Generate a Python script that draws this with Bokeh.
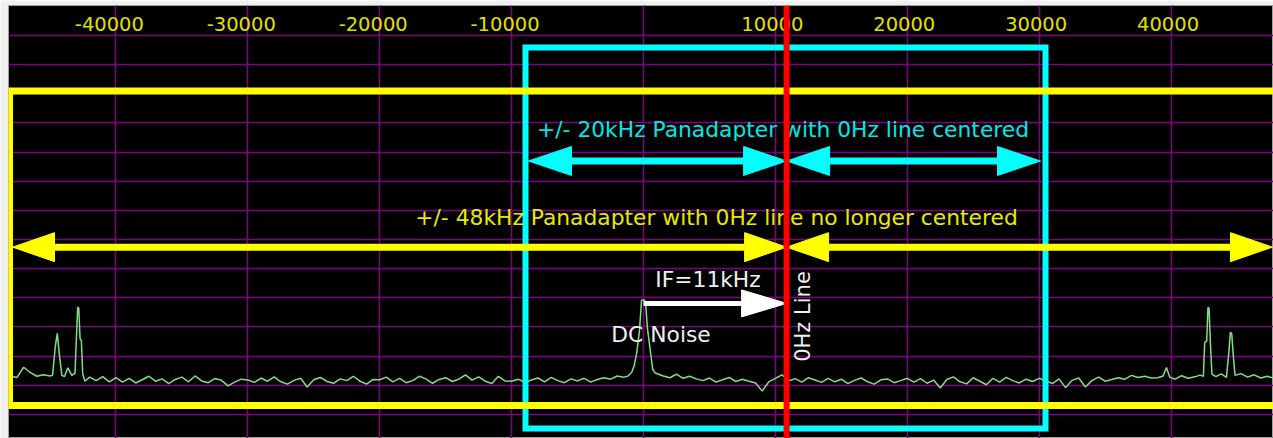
import math
from bokeh.plotting import figure
from bokeh.models import Range1d, FixedTicker, Grid, Span
from bokeh.core.properties import value
from bokeh.embed import file_html
from bokeh.resources import INLINE

# ---------------- data ----------------
tick_hz = [-40000, -30000, -20000, -10000, 10000, 20000, 30000, 40000]
tick_labels = ["-40000", "-30000", "-20000", "-10000", "10000", "20000", "30000", "40000"]
grid_hz = [-40000, -30000, -20000, -10000, 0, 10000, 20000, 30000, 40000]
grid_db = [0, -10, -20, -30, -40, -50, -60, -70, -80, -90, -100, -110, -120, -130]

spectrum_hz = (
    [-48200, -47500, -47000, -46500, -46000, -45500, -45000, -44800, -44600, -44450, -44300, -44100]
    + [-43900, -43650, -43350, -43100, -43000, -42900, -42820, -42720, -42620, -42520, -42350, -42000, -41500, -41000, -40500]
    + [-40000, -39500, -39000, -38500, -38000, -37500, -37000, -36500, -36000, -35500,
       -35000, -34500, -34000, -33500, -33000, -32500, -32000, -31500, -31000, -30500]
    + [-30000, -29500, -29000, -28500, -28000, -27500, -27000, -26500, -26000, -25500,
       -25000, -24500, -24000, -23500, -23000, -22500, -22000, -21500, -21000, -20500]
    + [-20000, -19500, -19000, -18500, -18000, -17500, -17000, -16500, -16000, -15500,
       -15000, -14500, -14000, -13500, -13000, -12500, -12000, -11500, -11000, -10500]
    + [-10000, -9500, -9000, -8500, -8000, -7500, -7000, -6500, -6000, -5500,
       -5000, -4500, -4000, -3500, -3000, -2500, -2000, -1500]
    + [-1200, -900, -700, -500, -300, -150, 0, 150, 300, 500, 700, 900, 1200]
    + [1500, 2000, 2500, 3000, 3500, 4000, 4500, 5000, 5500, 6000,
       6500, 7000, 7500, 8000, 8500, 9000, 9500, 10000]
    + [10500, 11000, 11500, 12000, 12500, 13000, 13500, 14000, 14500, 15000,
       15500, 16000, 16500, 17000, 17500, 18000, 18500, 19000, 19500, 20000]
    + [20500, 21000, 21500, 22000, 22500, 23000, 23500, 24000, 24500, 25000,
       25500, 26000, 26500, 27000, 27500, 28000, 28500, 29000, 29500, 30000]
    + [30500, 31000, 31500, 32000, 32500, 33000, 33500, 34000, 34500, 35000,
       35500, 36000, 36500, 37000, 37500, 38000, 38500]
    + [39000, 39400, 39650, 39900, 40300, 40800, 41300, 41800, 42200, 42450,
       42550, 42700, 42800, 42880, 42980, 43100, 43400, 43800, 44200, 44380,
       44500, 44600, 44700, 44850, 45300, 45800, 46300, 46800, 47300, 47800]
)
spectrum_db = (
    [-116.6, -117.3, -113.8, -115.6, -116.9, -116.4, -116.8, -116.5, -106.7, -102.2, -109.0, -116.6]
    + [-117.0, -114.0, -116.6, -115.8, -104.0, -93.2, -93.5, -104.0, -104.8, -116.0, -118.6, -117.2, -118.4, -117.0, -118.8]
    + [-117.4, -118.9, -117.6, -119.2, -118.1, -116.9, -118.6, -117.8, -119.4, -118.0,
       -117.2, -118.8, -116.8, -118.5, -119.1, -117.7, -118.3, -120.2, -118.9, -117.9]
    + [-118.2, -119.0, -117.5, -118.6, -117.1, -118.8, -119.6, -118.3, -117.6, -120.6,
       -118.1, -117.3, -118.7, -119.3, -117.8, -118.4, -116.9, -118.6, -119.6, -118.0]
    + [-118.1, -117.2, -118.8, -117.6, -119.1, -118.4, -116.9, -117.8, -119.3, -118.0,
       -117.4, -118.7, -117.9, -116.4, -118.2, -117.1, -118.6, -119.4, -116.9, -118.5]
    + [-118.6, -117.9, -119.0, -118.2, -117.5, -118.8, -117.3, -118.4, -119.1, -117.8,
       -118.5, -117.6, -118.9, -118.0, -117.4, -117.9, -116.8, -117.2]
    + [-116.9, -115.6, -113.2, -108.5, -101.0, -90.9, -90.6, -91.2, -100.5, -107.6, -114.5, -115.8, -116.3]
    + [-116.8, -117.4, -116.2, -117.6, -116.9, -117.8, -118.4, -117.5, -118.9, -118.1,
       -117.3, -118.7, -117.9, -118.6, -119.2, -122.0, -118.8, -117.6]
    + [-116.4, -118.5, -117.7, -118.9, -117.4, -118.2, -119.0, -117.6, -118.8, -117.9,
       -119.4, -118.3, -117.5, -118.8, -119.6, -118.1, -117.8, -119.1, -118.4, -117.6]
    + [-118.9, -117.7, -119.3, -118.2, -120.9, -118.0, -117.1, -118.8, -119.5, -117.4,
       -118.6, -119.8, -117.6, -118.9, -117.3, -118.4, -119.2, -117.9, -118.7, -117.6]
    + [-118.5, -119.4, -117.8, -120.8, -118.3, -117.5, -120.6, -118.4, -117.2, -118.6,
       -118.0, -117.4, -117.9, -116.6, -117.3, -116.9, -117.5]
    + [-117.4, -116.8, -113.9, -117.2, -117.9, -116.7, -117.6, -117.1, -116.5, -116.9,
       -105.3, -104.9, -93.2, -93.6, -105.3, -116.2, -117.0, -116.1, -117.3, -108.7,
       -101.8, -102.3, -108.7, -116.6, -116.0, -117.2, -116.4, -117.5, -116.9, -117.6]
)

# annotation geometry (data units: Hz, dB)
zero_hz_line = 10850
pan20_box = dict(left=-8947, right=30480, bottom=-134.8, top=-4.12)
pan48_box = dict(left=-48070, right=48600, bottom=-126.9, top=-19.04)

arrow_x0 = [-8720, 10850, -47840, 10850, 0]
arrow_x1 = [10850, 30100, 10850, 47690, 10850]
arrow_y = [-43.05, -43.05, -72.6, -72.6, -91.9]
arrow_double = [True, True, True, True, False]
arrow_color = ["#00FFFF", "#00FFFF", "#FFFF00", "#FFFF00", "#FFFFFF"]
arrow_width = [7, 7, 7, 7, 5]
arrow_head_len = [43, 43, 42, 42, 45]      # px
arrow_head_half = [14.5, 14.5, 14.5, 14.5, 13.5]  # px

label_text = ["+/- 20kHz Panadapter with 0Hz line centered",
              "+/- 48kHz Panadapter with 0Hz line no longer centered",
              "IF=11kHz", "DC Noise"]
label_x = [10577, 5535, 4890, 1327]
label_y = [-32.3, -62.5, -83.7, -102.6]
label_color = ["#00E8E8", "#E8E800", "#EEEEEE", "#EEEEEE"]
tick_label_y = 4.1

# ---------------- figure ----------------
W, H = 1273, 438
BL, BT = 8, 5
X0, X1 = -48146, 47767
Y0, Y1 = -138.25, 10.29
hz_px = (X1 - X0) / (W - BL)
db_px = (Y1 - Y0) / (H - BT)

p = figure(width=W, height=H, x_range=Range1d(X0, X1), y_range=Range1d(Y0, Y1),
           output_backend="svg", toolbar_location=None,
           min_border_left=BL, min_border_top=BT, min_border_right=0, min_border_bottom=0,
           x_axis_location=None, y_axis_location=None,
           background_fill_color="black", border_fill_color="#F0F0F0",
           outline_line_color="#A0A0A0", outline_line_width=1)
p.grid.visible = False
p.add_layout(Grid(dimension=0, ticker=FixedTicker(ticks=grid_hz),
                  grid_line_color="#800080", grid_line_width=1.5))
p.add_layout(Grid(dimension=1, ticker=FixedTicker(ticks=grid_db),
                  grid_line_color="#800080", grid_line_width=1.5))

# spectrum
p.line(spectrum_hz, spectrum_db, line_color="#80E080", line_width=1.5)

# boxes
p.quad(left=[pan20_box["left"]], right=[pan20_box["right"]],
       bottom=[pan20_box["bottom"]], top=[pan20_box["top"]],
       fill_color=None, line_color="#00FFFF", line_width=6, line_join="miter")
p.quad(left=[pan48_box["left"]], right=[pan48_box["right"]],
       bottom=[pan48_box["bottom"]], top=[pan48_box["top"]],
       fill_color=None, line_color="#FFFF00", line_width=7, line_join="miter")

# arrows
sx0, sx1, sy, scol, swid = [], [], [], [], []
hx, hy, hcol = [], [], []
for x0, x1, y, dbl, c, w, L, Hh in zip(arrow_x0, arrow_x1, arrow_y, arrow_double,
                                        arrow_color, arrow_width, arrow_head_len, arrow_head_half):
    l = L * hz_px
    h = Hh * db_px
    sx0.append(x0 + (l - 3 * hz_px if dbl else 0))
    sx1.append(x1 - (l - 3 * hz_px))
    sy.append(y); scol.append(c); swid.append(w)
    hx.append([x1, x1 - l, x1 - l]); hy.append([y, y + h, y - h]); hcol.append(c)
    if dbl:
        hx.append([x0, x0 + l, x0 + l]); hy.append([y, y + h, y - h]); hcol.append(c)

p.segment(x0=sx0, y0=sy, x1=sx1, y1=sy, line_color=scol, line_width=swid, line_cap="butt")
p.patches(hx, hy, fill_color=hcol, line_color=hcol, line_width=1)

# texts
font = value("DejaVu Sans")
p.text(x=tick_hz, y=[tick_label_y] * len(tick_hz), text=tick_labels, text_align="right",
       text_baseline="alphabetic", x_offset=28, text_color="#E0E000",
       text_font=font, text_font_size="19.5px")
p.text(x=label_x, y=label_y, text=label_text, text_align="center",
       text_baseline="alphabetic", text_color=label_color,
       text_font=font, text_font_size="21.8px")
p.text(x=[12131], y=[-96.4], text=["0Hz Line"], angle=math.pi / 2,
       text_align="center", text_baseline="middle", text_color="#EEEEEE",
       text_font=font, text_font_size="21px")

# 0 Hz line
p.add_layout(Span(location=zero_hz_line, dimension="height",
                  line_color="#FF0000", line_width=6))

open("out.html", "w").write(file_html(p, INLINE))
